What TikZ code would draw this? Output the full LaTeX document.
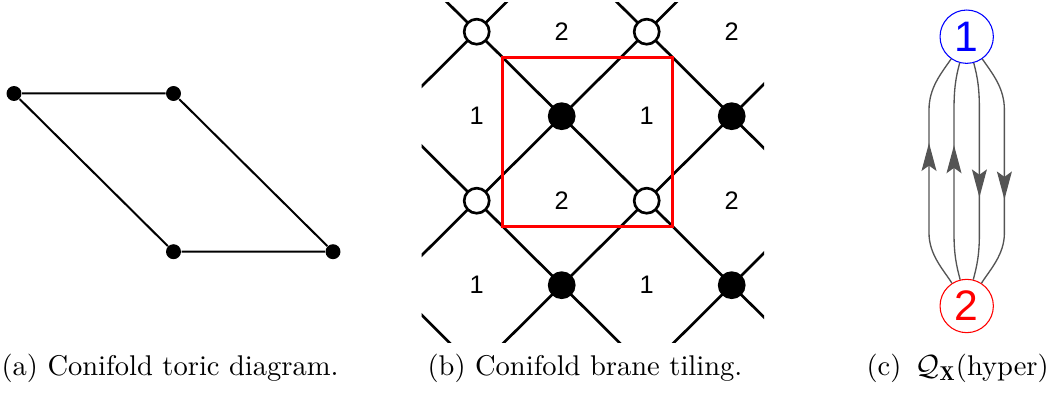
\documentclass[tikz,border=0pt]{standalone}
\usepackage{fontspec}
\newfontfamily\lsans{Liberation Sans}
\usetikzlibrary{arrows.meta,decorations.markings}
\begin{document}
\begin{tikzpicture}[x=0.375pt,y=-0.375pt,
  toricdot/.style={circle,fill=black,inner sep=0pt,minimum size=5.6pt},
  toricedge/.style={line width=0.75pt},
  tileedge/.style={line width=1pt},
  wnode/.style={circle,draw=black,line width=1pt,fill=white,inner sep=0pt,minimum size=9.4pt},
  bnode/.style={wnode,fill=black},
  facelabel/.style={font=\lsans\fontsize{9.5}{11}\selectfont,inner sep=0pt},
  quivnode/.style={circle,line width=0.4pt,fill=white,inner sep=0pt,minimum size=20pt,font=\lsans\fontsize{16}{19}\selectfont},
  quivedge/.style={draw=black!67,line width=0.5pt},
  arrowmid/.style={postaction=decorate,decoration={markings,mark=at position #1 with {\arrow[black!67]{Stealth[length=10.5pt,width=5.6pt,inset=2pt]}}}},
  caption/.style={anchor=base west,inner sep=0pt,font=\fontsize{10.7}{13}\selectfont}]
\useasboundingbox (0,0) rectangle (1050,398);

% (a) toric diagram
\node[toricdot] (p1) at (14,93.5) {};
\node[toricdot] (p2) at (173.5,93.5) {};
\node[toricdot] (p3) at (173.5,251.7) {};
\node[toricdot] (p4) at (333,251.7) {};
\draw[toricedge] (p1) -- (p2) (p1) -- (p3) (p2) -- (p4) (p3) -- (p4);

% (b) brane tiling
\begin{scope}[shift={(476.7,31.7)},x=31.875pt,y=-31.6875pt]
  \begin{scope}
    \clip (-0.647,-0.35) rectangle (3.38,3.68);
    \foreach \k in {-6,-4,...,6} \draw[tileedge] (\k-6,-6) -- (\k+6,6);
    \foreach \k in {-4,-2,...,10} \draw[tileedge] (\k+6,-6) -- (\k-6,6);
  \end{scope}
  \draw[red,line width=1.1pt] (0.3,0.3) rectangle (2.3,2.3);
  \node[wnode] (w1) at (0,0) {};
  \node[wnode] (w2) at (2,0) {};
  \node[wnode] (w3) at (0,2) {};
  \node[wnode] (w4) at (2,2) {};
  \node[bnode] (b1) at (1,1) {};
  \node[bnode] (b2) at (3,1) {};
  \node[bnode] (b3) at (1,3) {};
  \node[bnode] (b4) at (3,3) {};
  \node[facelabel] (f1) at (1,0) {2};
  \node[facelabel] (f2) at (3,0) {2};
  \node[facelabel] (f3) at (0,1) {1};
  \node[facelabel] (f4) at (2,1) {1};
  \node[facelabel] (f5) at (1,2) {2};
  \node[facelabel] (f6) at (3,2) {2};
  \node[facelabel] (f7) at (0,3) {1};
  \node[facelabel] (f8) at (2,3) {1};
\end{scope}

% (c) quiver
\node[quivnode,draw=blue,text=blue] (q1) at (966.7,36.7) {1};
\node[quivnode,draw=red,text=red] (q2) at (966.7,306) {2};
\draw[quivedge,arrowmid=0.62] (q2.123) .. controls (943.7,270) and (929,255) .. (929,233) -- (929,110) .. controls (929,88) and (940.7,74) .. (q1.-125);
\draw[quivedge,arrowmid=0.62] (q2.104) .. controls (956.4,265.5) and (954,255) .. (954,233) -- (954,110) .. controls (954,88) and (955.9,77) .. (q1.-105);
\draw[quivedge,arrowmid=0.62] (q1.-75) .. controls (977.5,77) and (979.4,88) .. (979.4,110) -- (979.4,233) .. controls (979.4,255) and (977,265.5) .. (q2.76);
\draw[quivedge,arrowmid=0.62] (q1.-55) .. controls (992.7,74) and (1004.4,88) .. (1004.4,110) -- (1004.4,233) .. controls (1004.4,255) and (989.7,270) .. (q2.57);

% captions
\node[caption] (capa) at (1,376) {(a) Conifold toric diagram.};
\node[caption] (capb) at (427,376) {(b) Conifold brane tiling.};
\node[caption] (capc) at (866,376) {(c)\, $\mathcal{Q}_{\mathbf{X}}$(hyper)};
\end{tikzpicture}
\end{document}
